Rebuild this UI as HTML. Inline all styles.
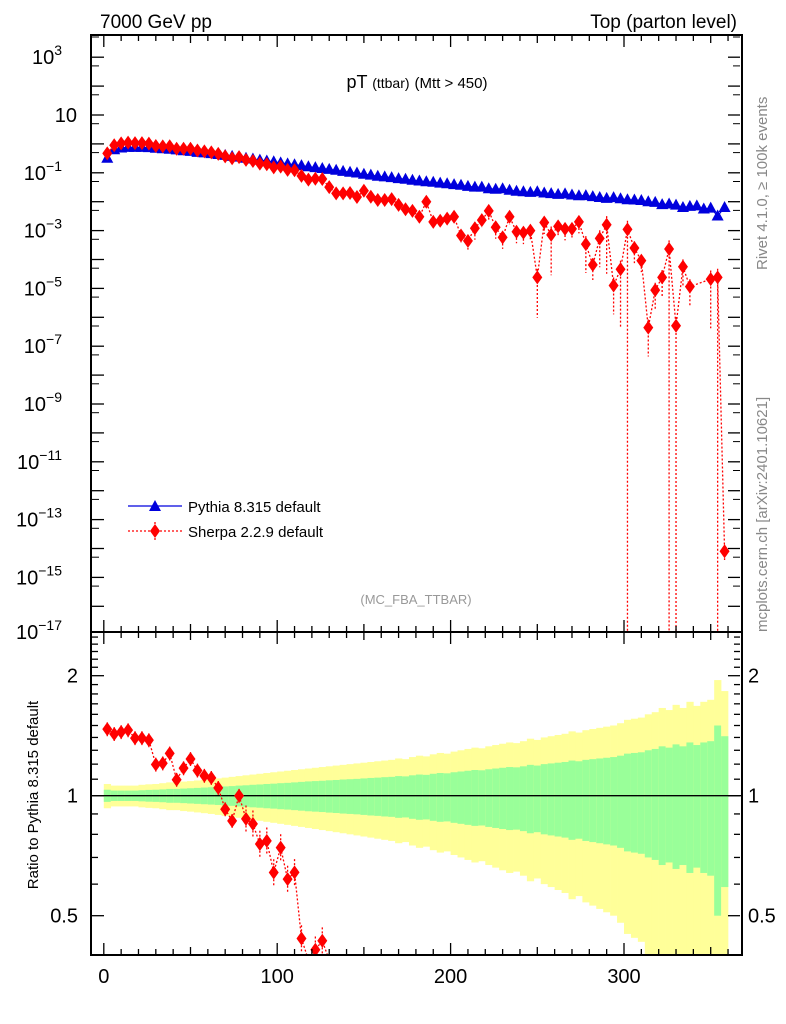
<!DOCTYPE html>
<html><head><meta charset="utf-8"><style>
html,body{margin:0;background:#fff;width:786px;height:1024px;overflow:hidden}
svg{font-family:"Liberation Sans",sans-serif;display:block;overflow:hidden}
</style></head><body>
<svg id="chart" width="786" height="1024" viewBox="0 0 786 1024" xmlns="http://www.w3.org/2000/svg">
<defs>
<clipPath id="ctop"><rect x="91" y="36" width="650" height="596"/></clipPath>
<clipPath id="crat"><rect x="91" y="633" width="650" height="322"/></clipPath>
</defs>
<g id="bands" clip-path="url(#crat)"></g>
<g id="ratio" clip-path="url(#crat)"></g>
<g id="topPanel" clip-path="url(#ctop)"></g>
<g id="axes"></g>
<text x="100" y="28" font-size="19">7000 GeV pp</text>
<text x="737" y="28" font-size="19" text-anchor="end">Top (parton level)</text>
<text x="417" y="88" font-size="18" text-anchor="middle">pT <tspan font-size="14">(ttbar)</tspan> <tspan font-size="15">(Mtt &gt; 450)</tspan></text>
<text x="416" y="604" font-size="13" fill="#999" text-anchor="middle">(MC_FBA_TTBAR)</text>
<text transform="translate(767,270) rotate(-90)" font-size="15" fill="#888">Rivet 4.1.0, ≥ 100k events</text>
<text transform="translate(767,632) rotate(-90)" font-size="15" fill="#888">mcplots.cern.ch [arXiv:2401.10621]</text>
<text transform="translate(38,795) rotate(-90)" font-size="15" text-anchor="middle">Ratio to Pythia 8.315 default</text>
<g>
<g>
<line x1="128" y1="506" x2="182" y2="506" stroke="#0000dd" stroke-width="1.3"/>
<path d="M155,500 L161,511 L149,511 Z" fill="#0000dd"/>
<text x="188" y="512" font-size="15">Pythia 8.315 default</text></g>
<g>
<line x1="128" y1="531" x2="182" y2="531" stroke="red" stroke-width="1.3" stroke-dasharray="2,2"/>
<line x1="155" y1="522" x2="155" y2="540" stroke="red" stroke-width="1.3" stroke-dasharray="2,2"/>
<path d="M155,524 L160,531 L155,538 L150,531 Z" fill="red"/>
<text x="188" y="537" font-size="15">Sherpa 2.2.9 default</text></g>
</g>
</svg>
<script>
const binCenters = [2,6,10,14,18,22,26,30,34,38,42,46,50,54,58,62,66,70,74,78,82,86,90,94,98,102,106,110,114,118,122,126,130,134,138,142,146,150,154,158,162,166,170,174,178,182,186,190,194,198,202,206,210,214,218,222,226,230,234,238,242,246,250,254,258,262,266,270,274,278,282,286,290,294,298,302,306,310,314,318,322,326,330,334,338,342,346,350,354,358];
const pythiaValues = [0.32,0.63,0.72,0.76,0.76,0.76,0.74,0.71,0.68,0.65,
0.62,0.58,0.55,0.51,0.49,0.46,0.43,0.40,0.37,0.35,
0.32,0.30,0.275,0.257,0.24,0.22,0.204,0.19,0.178,0.162,
0.151,0.141,0.132,0.123,0.112,0.105,0.098,0.089,0.083,0.076,
0.072,0.068,0.063,0.060,0.055,0.052,0.049,0.047,0.044,0.042,
0.039,0.037,0.034,0.032,0.032,0.028,0.027,0.028,0.025,0.023,
0.022,0.021,0.022,0.020,0.019,0.018,0.0186,0.017,0.016,0.0162,
0.015,0.014,0.013,0.0138,0.0126,0.0117,0.0115,0.011,0.010,0.0095,
0.0079,0.0083,0.0076,0.0063,0.0069,0.0072,0.0056,0.006,0.0032,0.0063];
const sherpaValues = [0.47,0.90,1.04,1.11,1.06,1.06,1.02,0.85,0.82,0.83,
0.68,0.68,0.68,0.59,0.55,0.51,0.45,0.37,0.32,0.35,
0.28,0.255,0.208,0.198,0.154,0.163,0.126,0.122,0.078,0.058,
0.062,0.061,0.032,0.0195,0.0195,0.02,0.0145,0.024,0.0148,0.0115,
0.0115,0.0123,0.0078,0.0055,0.0048,0.003,0.01,0.002,0.0022,0.0026,
0.003,6.8e-4,4.4e-4,1.2e-3,2.3e-3,4.8e-3,1.3e-3,5.8e-4,3e-3,9.1e-4,
8.5e-4,1e-3,2.4e-5,1.9e-3,7.1e-4,1.4e-3,1.15e-3,1.15e-3,2e-3,3.4e-4,
6.5e-5,5.4e-4,1.6e-3,1.26e-5,4.6e-5,1.1e-3,2.5e-4,9.1e-5,4.4e-7,8.7e-6,
2.4e-5,2.3e-4,5.1e-7,5.6e-5,1.15e-5,null,null,2.1e-5,2.4e-5,8e-15];
const sherpaErr = [.04,.04,.04,.04,.04,.04,.04,.04,.04,.04,
.04,.04,.04,.04,.04,.04,.04,.04,.04,.04,
.08,.08,.08,.08,.08,.08,.08,.08,.08,.08,
.08,.08,.15,.15,.15,.15,.15,.15,.15,.15,
.3,.3,.35,.35,.3,.4,.3,.4,.4,.35,
.4,.45,.5,.6,.45,.5,.6,.6,.45,.6,
.6,.5,.96,.6,.96,.5,.6,.5,.6,.9,
.7,.9,.98,.9,.99,1,.7,.6,.9,.8,
.8,1,1,.8,.8,0,0,.98,1,.5];
const greenErr = [.035,.03,.03,.03,.03,.032,.034,.035,.037,.04,
.04,.042,.044,.046,.048,.05,.052,.055,.057,.06,
.062,.065,.067,.07,.072,.075,.077,.08,.083,.086,
.088,.09,.093,.095,.098,.1,.102,.105,.108,.11,
.113,.115,.12,.118,.125,.13,.128,.135,.14,.138,
.145,.15,.155,.16,.158,.165,.17,.175,.18,.178,
.185,.195,.19,.2,.205,.21,.215,.225,.22,.23,
.235,.24,.245,.25,.26,.275,.28,.285,.3,.31,
.33,.32,.345,.33,.36,.34,.36,.37,.5,.41];
const yellowErr = [.07,.06,.06,.06,.06,.065,.068,.07,.075,.08,
.08,.085,.088,.092,.096,.1,.105,.11,.115,.12,
.125,.13,.135,.14,.145,.15,.155,.16,.165,.17,
.175,.18,.185,.19,.195,.2,.205,.21,.215,.22,
.225,.23,.24,.235,.25,.26,.255,.27,.28,.275,
.29,.3,.31,.32,.315,.33,.34,.35,.36,.355,
.37,.39,.38,.4,.41,.42,.43,.45,.44,.46,
.47,.48,.49,.5,.52,.55,.56,.57,.6,.62,
.66,.64,.69,.66,.72,.68,.72,.74,.95,.83];
const xTickLabels = [0,100,200,300];
const yTickExps = [3,1,-1,-3,-5,-7,-9,-11,-13,-15,-17];
const ratioTickLabels = [2,1,0.5];

(function(){
const NS = "http://www.w3.org/2000/svg";
const X = u => 103.8 + u * 1.734;
const YT = v => 115 - (Math.log10(v) - 1) * 28.9;
const YR = r => 795.7 - Math.log2(r) * 120;
function mk(tag, attrs, parent){const e=document.createElementNS(NS,tag);for(const k in attrs)e.setAttribute(k,attrs[k]);parent.appendChild(e);return e;}
const topG=document.getElementById('topPanel'), rat=document.getElementById('ratio'), bands=document.getElementById('bands'), axes=document.getElementById('axes');

binCenters.forEach((c,i)=>{
  const x0=X(c-2), w=X(c+2)-X(c-2)+0.3;
  const hiY=YR(1+yellowErr[i]);
  const loY=Math.min(956,YR(Math.max(1e-3,1-yellowErr[i])));
  const y=mk('rect',{x:x0,y:hiY,width:w,height:loY-hiY,fill:'#ffff99'},bands);
  
  
  const g=mk('rect',{x:x0,y:YR(1+greenErr[i]),width:w,height:YR(1-greenErr[i])-YR(1+greenErr[i]),fill:'#99ff99'},bands);
  
  
});
mk('line',{x1:91,x2:741,y1:YR(1),y2:YR(1),stroke:'#000','stroke-width':1.3},bands);

let pts=binCenters.map((c,i)=>X(c)+','+YT(pythiaValues[i])).join(' ');
const pl=mk('polyline',{points:pts,fill:'none',stroke:'#0000dd','stroke-width':1.2},topG);


binCenters.forEach((c,i)=>{
  const x=X(c),y=YT(pythiaValues[i]);
  const m=mk('path',{d:`M${x},${y-6.5} L${x+6},${y+4.5} L${x-6},${y+4.5} Z`,fill:'#0000dd'},topG);
  
  
});
function drawSherpa(parent, valFn, Y, bottom){
  let seg=[];
  binCenters.forEach((c,i)=>{ const v=valFn(i); if(v!=null) seg.push(X(c)+','+Math.min(bottom,Y(v))); });
  const l=mk('polyline',{points:seg.join(' '),fill:'none',stroke:'red','stroke-width':1.3,'stroke-dasharray':'2,2'},parent);
  
  
  binCenters.forEach((c,i)=>{
    const v=valFn(i); if(v==null) return;
    const x=X(c),y=Y(v),e=sherpaErr[i];
    if(y>bottom+10) return;
    const lo=e>=1?bottom:Math.min(bottom,Y(v*(1-e))), hi=Y(v*(1+e));
    const eb=mk('line',{x1:x,x2:x,y1:hi,y2:lo,stroke:'red','stroke-width':1.3,'stroke-dasharray':'2,2'},parent);
    
    
    const m=mk('path',{d:`M${x},${y-7} L${x+5},${y} L${x},${y+7} L${x-5},${y} Z`,fill:'red'},parent);
    
    
  });
}
drawSherpa(topG,i=>sherpaValues[i],YT,640);
drawSherpa(rat,i=>sherpaValues[i]==null?null:sherpaValues[i]/pythiaValues[i],YR,960);

[[91,35,651,597],[91,632,651,323]].forEach(r=>{
  const f=mk('rect',{x:r[0],y:r[1],width:r[2],height:r[3],fill:'none',stroke:'#000','stroke-width':2},axes);
  
  
});
for(let u=0;u<=360;u+=10){
  const x=X(u), L=u%100==0?12:(u%50==0?8:6);
  [[955,-1],[632,-1],[632,1],[35,1]].forEach(([y0,d])=>mk('line',{x1:x,x2:x,y1:y0,y2:y0+d*L,stroke:'#000','stroke-width':1.3},axes));
}
xTickLabels.forEach(v=>{
  const t=mk('text',{x:X(v),y:983,'font-size':20,'text-anchor':'middle'},axes);
  t.textContent=v;
  
  
});
for(let e=-17;e<=3;e++){
  const y=YT(Math.pow(10,e));
  if(y>631) continue;
  mk('line',{x1:92,x2:104,y1:y,y2:y,stroke:'#000','stroke-width':1.3},axes);
  mk('line',{x1:740,x2:728,y1:y,y2:y,stroke:'#000','stroke-width':1.3},axes);
  const y2=YT(5*Math.pow(10,e));
  if(y2>36){mk('line',{x1:92,x2:99,y1:y2,y2:y2,stroke:'#000','stroke-width':1},axes);
  mk('line',{x1:740,x2:733,y1:y2,y2:y2,stroke:'#000','stroke-width':1},axes);}
}
yTickExps.forEach(e=>{
  const y=Math.min(YT(Math.pow(10,e)),632);
  const t=mk('text',{x:e===1?77:62,y:y+7,'font-size':20,'text-anchor':'end'},axes);
  
  
  t.textContent='10';
  if(e!==1){const s=mk('tspan',{dy:-9,'font-size':14},t); s.textContent=(e<0?'\u2212':'')+Math.abs(e);}
});
for(let k=4;k<=25;k++){
  const r=k/10,y=YR(r); if(y<633||y>954) continue;
  const L=(k==5||k==10||k==20)?12:6;
  mk('line',{x1:92,x2:92+L,y1:y,y2:y,stroke:'#000','stroke-width':1.3},axes);
  mk('line',{x1:740,x2:740-L,y1:y,y2:y,stroke:'#000','stroke-width':1.3},axes);
}
ratioTickLabels.forEach(r=>{
  [[78,'end'],[748,'start']].forEach(([x,a])=>{
    const t=mk('text',{x:x,y:YR(r)+7,'font-size':20,'text-anchor':a},axes);
    t.textContent=r;
    
    
  });
});
})();
</script>
</body></html>
